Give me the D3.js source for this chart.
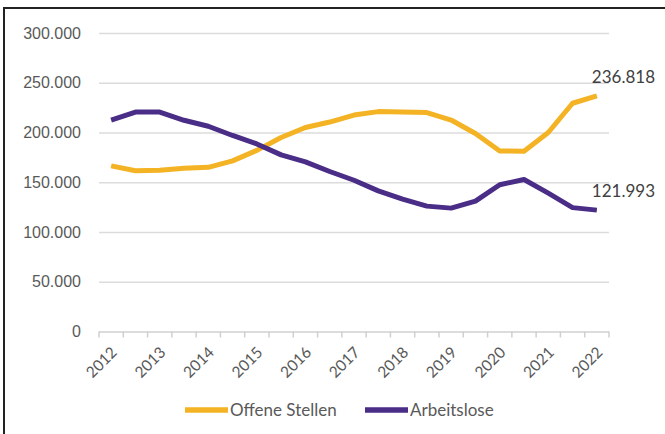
<!DOCTYPE html>
<html>
<head>
<meta charset="utf-8">
<script src="https://cdn.jsdelivr.net/npm/d3@7"></script>
<style>
  body { margin: 0; background: #fff; }
  svg { display: block; font-family: Lato, "Open Sans", sans-serif; }
</style>
</head>
<body>
<script>
// Halbjahreswerte, 21 Zeitpunkte, beschriftet wird nur jeder zweite
const perioden = ['2012', '2012 II', '2013', '2013 II', '2014', '2014 II', '2015', '2015 II',
                  '2016', '2016 II', '2017', '2017 II', '2018', '2018 II', '2019', '2019 II',
                  '2020', '2020 II', '2021', '2021 II', '2022']
const jahre = ['2012', '2013', '2014', '2015', '2016', '2017', '2018', '2019', '2020', '2021', '2022']

const offeneStellen = [166500, 161500, 162000, 164000, 165000, 171500, 182000, 195000, 205000, 210500, 217500,
                       221000, 220500, 220000, 212500, 199000, 181500, 181200, 200000, 229400, 236818]
const arbeitslose = [212500, 220500, 220500, 212300, 206300, 197000, 188500, 177500, 170500, 160800, 152000,
                     141300, 133000, 126000, 124000, 131000, 147500, 152800, 139000, 124500, 121993]

const yTicks = [0, 50000, 100000, 150000, 200000, 250000, 300000]

const serien = [
    { name: 'Offene Stellen', werte: offeneStellen, farbe: '#f4b324' },
    { name: 'Arbeitslose', werte: arbeitslose, farbe: '#4a2d86' }
]

const W = 665, H = 434
const fmt = v => v === 0 ? '0' : d3.format(',')(v).replace(/,/g, '.')

const svg = d3.select('body')
                .append('svg')
                .attr('width', W)
                .attr('height', H)

// Rahmen (nur oben und links sichtbar)
svg.append('path')
   .attr('d', 'M4,' + (H + 2) + 'V8H' + (W + 2))
   .attr('fill', 'none')
   .attr('stroke', '#222')
   .attr('stroke-width', 2)

const x = d3.scaleBand()
            .domain(perioden)
            .range([99, 609])

const y = d3.scaleLinear()
            .domain([0, 300000])
            .range([331.5, 33])

// Gitterlinien + y-Beschriftung
const yAxis = svg.append('g')
                 .attr('transform', 'translate(99,0)')
                 .call(d3.axisLeft(y).tickValues(yTicks).tickFormat(fmt).tickSize(-510).tickPadding(18))
yAxis.select('.domain').remove()
yAxis.selectAll('line')
     .attr('stroke', d => d === 0 ? '#d0d0d0' : '#dcdcdc')
     .attr('stroke-width', 1.5)
yAxis.selectAll('text')
     .attr('fill', '#595959')
     .attr('font-size', 16)

// Teilstriche an den Kategoriegrenzen
const grenzen = perioden.map(p => x(p)).concat([x.range()[1]])
svg.append('g')
   .selectAll('line')
   .data(grenzen)
   .join('line')
    .attr('x1', d => d)
    .attr('x2', d => d)
    .attr('y1', y(0))
    .attr('y2', y(0) + 6)
    .attr('stroke', '#d0d0d0')
    .attr('stroke-width', 1.5)

// x-Beschriftung, gedreht
svg.append('g')
   .selectAll('text')
   .data(jahre)
   .join('text')
    .attr('transform', d => 'translate(' + (x(d) + x.bandwidth() / 2 + 3) + ',' + (y(0) + 18) + ') rotate(-45)')
    .attr('text-anchor', 'end')
    .attr('dy', '0.35em')
    .attr('fill', '#595959')
    .attr('font-size', 15.5)
    .text(d => d)

const line = d3.line()
               .x((d, i) => x(perioden[i]) + x.bandwidth() / 2)
               .y(d => y(d))

svg.append('g')
   .selectAll('path')
   .data(serien)
   .join('path')
    .attr('d', d => line(d.werte))
    .attr('fill', 'none')
    .attr('stroke', d => d.farbe)
    .attr('stroke-width', 5)
    .attr('stroke-linejoin', 'round')

// Endwerte
svg.append('g')
   .selectAll('text')
   .data(serien)
   .join('text')
    .attr('x', x(perioden[20]) + x.bandwidth() / 2 - 5)
    .attr('y', d => y(d.werte[20]) - 13)
    .attr('fill', '#404040')
    .attr('font-size', 17)
    .text(d => fmt(d.werte[20]))

// Legende
const legende = svg.append('g')
                   .selectAll('g')
                   .data(serien)
                   .join('g')
                    .attr('transform', (d, i) => 'translate(' + (185 + i * 180) + ',410)')
legende.append('line')
       .attr('x1', 0)
       .attr('x2', 43)
       .attr('stroke', d => d.farbe)
       .attr('stroke-width', 5.5)
legende.append('text')
       .attr('x', 45)
       .attr('dy', '0.35em')
       .attr('fill', '#595959')
       .attr('font-size', 17)
       .text(d => d.name)
</script>
</body>
</html>
